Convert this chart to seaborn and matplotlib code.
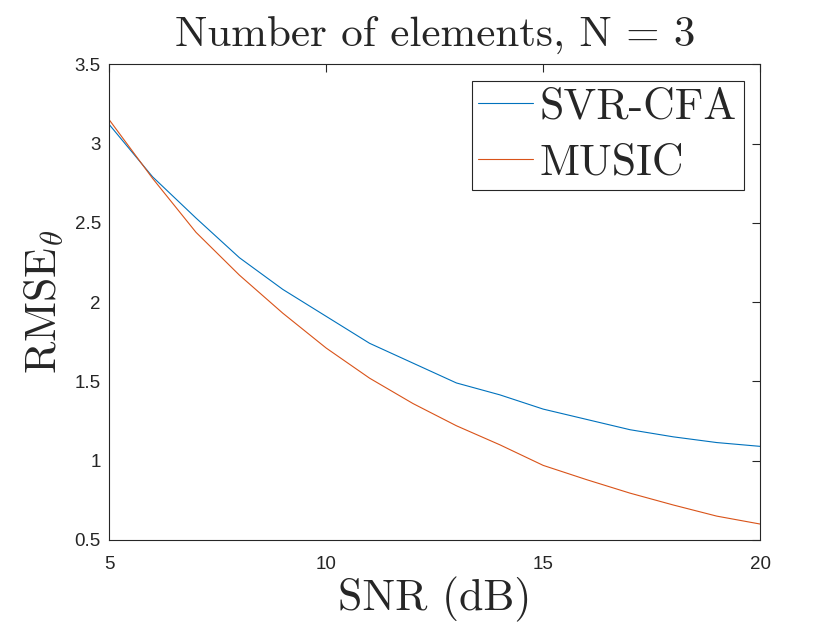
import matplotlib
matplotlib.use('Agg')
import matplotlib.pyplot as plt
from matplotlib.ticker import FuncFormatter
import seaborn as sns
import pandas as pd

# values
snr_db = [5, 6, 7, 8, 9, 10, 11, 12, 13, 14, 15, 16, 17, 18, 19, 20]
rmse_svr_cfa = [3.12, 2.79, 2.53, 2.28, 2.08, 1.91, 1.74, 1.615, 1.49, 1.415,
                1.325, 1.26, 1.195, 1.15, 1.114, 1.09]
rmse_music = [3.15, 2.78, 2.44, 2.17, 1.93, 1.71, 1.52, 1.36, 1.22, 1.10,
              0.97, 0.88, 0.795, 0.72, 0.65, 0.60]
methods = ['SVR-CFA', 'MUSIC']
x_ticks = [5, 10, 15, 20]
y_ticks = [0.5, 1, 1.5, 2, 2.5, 3, 3.5]

line_colors = ['#0072BD', '#D95319']
axis_color = '#262626'

sns.set_theme(style='white')
plt.rcParams['font.family'] = ['Liberation Sans', 'DejaVu Sans']
plt.rcParams['mathtext.fontset'] = 'cm'

df = pd.DataFrame({
    'SNR': snr_db + snr_db,
    'RMSE': rmse_svr_cfa + rmse_music,
    'Method': [methods[0]] * len(snr_db) + [methods[1]] * len(snr_db),
})

fig = plt.figure(figsize=(8.4, 6.3), dpi=100)
ax = fig.add_axes([0.130, 0.143, 0.775, 0.755])

sns.lineplot(data=df, x='SNR', y='RMSE', hue='Method', hue_order=methods,
             palette=line_colors, linewidth=0.8, ax=ax)

ax.set_xlim(5, 20)
ax.set_ylim(0.5, 3.5)
ax.set_xticks(x_ticks)
ax.set_yticks(y_ticks)
ax.xaxis.set_major_formatter(FuncFormatter(lambda v, p: f'{v:g}'))
ax.yaxis.set_major_formatter(FuncFormatter(lambda v, p: f'{v:g}'))
ax.tick_params(direction='in', top=True, right=True, length=6, width=0.8,
               colors=axis_color, labelsize=13.5)
ax.tick_params(axis='x', pad=11.5)
ax.tick_params(axis='y', pad=6)
for s in ax.spines.values():
    s.set_color(axis_color)
    s.set_linewidth(0.8)

cm_font = {'family': 'cmr10'}
ax.set_title('Number of elements, N = 3', fontdict=cm_font, fontsize=31, pad=13)
ax.set_xlabel('SNR (dB)', fontdict=cm_font, fontsize=31.5, labelpad=3)
ax.set_ylabel(r'$\mathrm{RMSE}_{\theta}$', fontsize=31.5, labelpad=6)

leg = ax.legend(loc='upper right', prop={'family': 'cmr10', 'size': 31.5},
                frameon=True, fancybox=False, edgecolor=axis_color,
                framealpha=1, borderaxespad=0.38, handlelength=1.25,
                handletextpad=0.16, labelspacing=0.36, borderpad=0.15)
leg.get_frame().set_linewidth(0.8)
for line in leg.get_lines():
    line.set_linewidth(0.8)

fig.savefig('out.png', dpi=100)
